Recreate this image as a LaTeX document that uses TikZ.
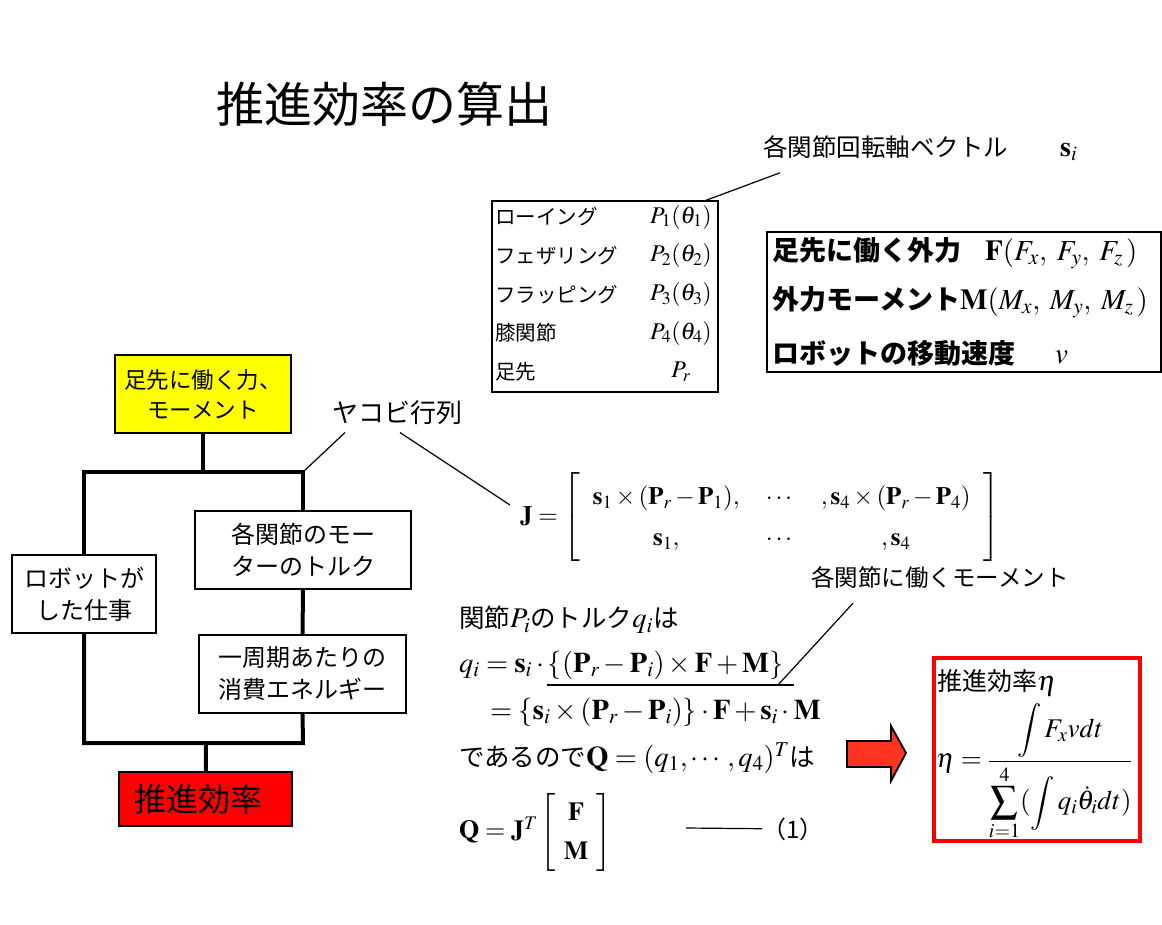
\documentclass[tikz,border=0pt]{standalone}
\usepackage{amsmath}
\usepackage{mathptmx}
\usepackage[no-math]{fontspec}
\setmainfont{Noto Sans CJK JP}
\usepackage{tikz}
\usetikzlibrary{positioning}
\tikzset{flowbox/.style = {draw, line width = 1.8pt, minimum height = 78pt, inner sep = 0, align = center, font = \fontsize{24}{32}\selectfont}}
\tikzset{bus/.style = {line width = 4pt}}
\tikzset{leader/.style = {line width = 1.2pt}}
\tikzset{txt/.style = {anchor = west, inner sep = 0}}
\newcommand{\mth}[2]{{\fontsize{#1}{#1}\selectfont$#2$}}
\definecolor{mred}{rgb}{1, 0, 0}
\definecolor{myellow}{rgb}{1, 1, 0}
\definecolor{arrred}{rgb}{1, 0.2, 0.13}

\begin{document}
\begin{tikzpicture}[x = 1pt, y = -1pt]
  \useasboundingbox (0, 0) rectangle (1162, 924);
  \node [txt, font = \fontsize{48}{48}\selectfont] (title) at (216, 104) {推進効率の算出};

  \node [flowbox, fill = myellow, minimum width = 176pt, font = \fontsize{22.5}{30}\selectfont] (force) at (203, 394) {足先に働く力、\\モーメント};
  \node [flowbox, minimum width = 144pt] (work) at (84, 594) {ロボットが\\した仕事};
  \node [flowbox, minimum width = 216pt] (torque) at (303, 550) {各関節のモー\\ターのトルク};
  \node [flowbox, minimum width = 207pt] (energy) at (302.5, 674) {一周期あたりの\\消費エネルギー};
  \node [flowbox, fill = mred, minimum width = 173pt, minimum height = 54pt, font = \fontsize{32}{32}\selectfont] (eff) at (205.5, 799) {推進効率\hspace{14pt}};
  \coordinate (topbar) at (203, 472);
  \coordinate (tl) at (84, 472);
  \coordinate (tr) at (303, 472);
  \coordinate (bl) at (84, 743);
  \coordinate (br) at (303, 743);
  \coordinate (botbar) at (206, 743);
  \draw [bus] (force) -- (topbar);
  \draw [bus] (work.north) -- (tl) -- (tr) -- (torque.north);
  \draw [bus] (torque.south) -- (energy.north);
  \draw [bus] (work.south) -- (bl) -- (br) -- (energy.south);
  \draw [bus] (botbar) -- (eff);

  \node [font = \fontsize{26}{26}\selectfont] (jacobi) at (397, 413) {ヤコビ行列};
  \node [txt, font = \fontsize{25}{25}\selectfont] (mat) at (520, 517) {%
    \renewcommand{\arraystretch}{1.62}\setlength{\arraycolsep}{13pt}%
    $\mathbf{J} = \left[\begin{array}{ccc}
      \mathbf{s}_1 \times (\mathbf{P}_r - \mathbf{P}_1), & \cdots & ,\mathbf{s}_4 \times (\mathbf{P}_r - \mathbf{P}_4) \\
      \mathbf{s}_1, & \cdots & ,\mathbf{s}_4
    \end{array}\right]$};
  \draw [leader] ([xshift = -52pt, yshift = -4pt]jacobi.south) -- (tr);
  \draw [leader] ([xshift = 3pt, yshift = -4pt]jacobi.south) -- ([xshift = -10pt, yshift = 12pt]mat.west);

  \node [draw, line width = 1.8pt, minimum width = 226pt, minimum height = 191pt] (joints) at (605, 296.5) {};
  \foreach \jname/\jsym [count = \k] in {ローイング/{P_1(\theta_1)}, フェザリング/{P_2(\theta_2)}, フラッピング/{P_3(\theta_3)}, 膝関節/{P_4(\theta_4)}, 足先/{P_r}} {
    \node [txt, font = \fontsize{20.5}{20.5}\selectfont] (jn\k) at (495, 178.3 + 38.7*\k) {\jname};
    \node [font = \fontsize{24}{24}\selectfont] (js\k) at (681, 178.3 + 38.7*\k) {$\jsym$};
  }
  \node [txt, font = \fontsize{24.5}{24.5}\selectfont] (axis) at (763, 148) {各関節回転軸ベクトル\hspace{52pt}\mth{28}{\mathbf{s}_i}};
  \draw [leader] ([xshift = -15pt, yshift = -1pt]joints.north east) -- ([xshift = 17pt, yshift = -12pt]axis.south west);

  \node [draw, line width = 1.8pt, minimum width = 394pt, minimum height = 140pt] (forces) at (964, 302) {};
  \node [txt, font = \fontsize{27}{27}\selectfont\bfseries] (fext) at (772, 253) {足先に働く外力\hspace{24pt}\mth{29}{\mathbf{F}(F_x ,\; F_y ,\; F_z\,)}};
  \node [txt, font = \fontsize{27}{27}\selectfont\bfseries] (mext) at (772, 302) {外力モーメント\mth{29}{\mathbf{M}(M_x ,\; M_y ,\; M_z\,)}};
  \node [txt, font = \fontsize{27}{27}\selectfont\bfseries] (vel) at (772, 353) {ロボットの移動速度\hspace{40pt}\mth{29}{v}};

  \node [txt, font = \fontsize{23.5}{23.5}\selectfont] (moment) at (811, 578) {各関節に働くモーメント};
  \node [txt, font = \fontsize{25.5}{25.5}\selectfont] (eq1) at (459, 620) {関節\mth{28.5}{P_i}のトルク\mth{28.5}{q_i}は};
  \node [txt, font = \fontsize{28.5}{28.5}\selectfont] (eq2) at (459, 665) {$q_i = \mathbf{s}_i \cdot \{(\mathbf{P}_r - \mathbf{P}_i) \times \mathbf{F} + \mathbf{M}\}$};
  \node [txt, font = \fontsize{28.5}{28.5}\selectfont] (eq3) at (490, 712) {$= \{\mathbf{s}_i \times (\mathbf{P}_r - \mathbf{P}_i)\} \cdot \mathbf{F} + \mathbf{s}_i \cdot \mathbf{M}$};
  \node [txt, font = \fontsize{25.5}{25.5}\selectfont] (eq4) at (459, 758) {であるので\mth{28.5}{\mathbf{Q} = (q_1, \cdots, q_4)^T}は};
  \node [txt, font = \fontsize{26}{26}\selectfont] (eq5) at (459, 832) {%
    \renewcommand{\arraystretch}{1.5}%
    $\mathbf{Q} = \mathbf{J}^T \left[\,\begin{array}{c} \mathbf{F} \\ \mathbf{M} \end{array}\,\right]$};
  \node [txt, font = \fontsize{24}{24}\selectfont] (eqno) at (762, 829) {（1）};
  \coordinate (dash) at (686, 828);
  \draw [leader] (dash) -- (eqno);
  \coordinate (ulstart) at (547, 685);
  \coordinate (ulend) at (794, 685);
  \coordinate (ulhit) at (778, 685);
  \draw [leader] (ulstart) -- (ulend);
  \draw [leader] ([xshift = 42pt, yshift = -14pt]moment.south west) -- (ulhit);

  \draw [fill = arrred, line width = 1.8pt] (847, 741) -- (891, 741) -- (891, 726) -- (906, 753) -- (891, 781) -- (891, 767) -- (847, 767) -- cycle;

  \node [draw = mred, line width = 4.5pt, minimum width = 206pt, minimum height = 183pt] (etabox) at (1037, 749.5) {};
  \node [txt, font = \fontsize{25}{25}\selectfont] (etalabel) at (937, 683) {推進効率\mth{28}{\eta}};
  \node [txt, font = \fontsize{27}{27}\selectfont] (etaform) at (936, 772) {$\eta = \dfrac{\displaystyle\int F_x v dt}{\displaystyle\sum_{i=1}^{4} (\int q_i \dot{\theta}_i dt)}$};
\end{tikzpicture}
\end{document}
